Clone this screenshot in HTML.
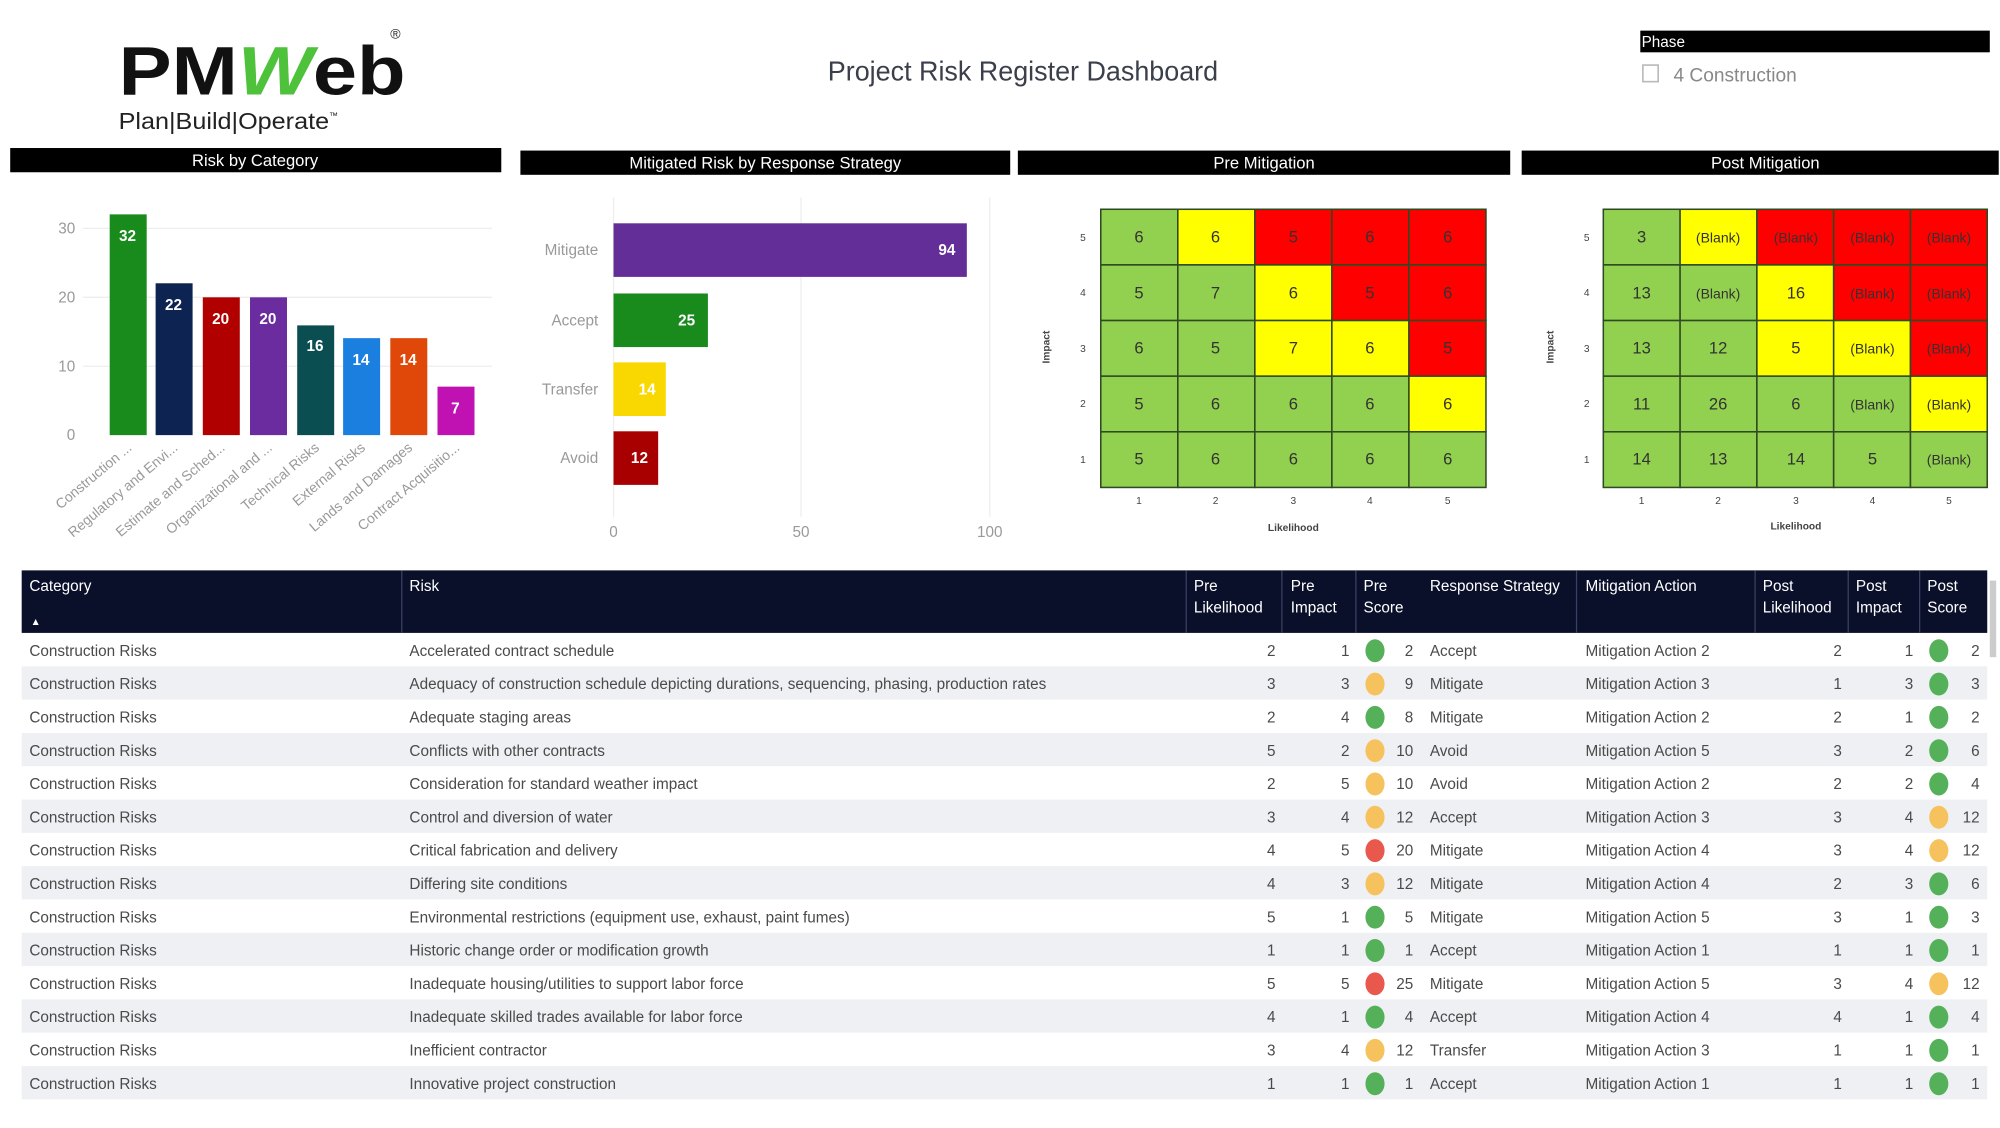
<!DOCTYPE html>
<html><head><meta charset="utf-8"><style>
html,body{margin:0;padding:0;background:#fff;width:2000px;height:1128px;overflow:hidden}
svg{display:block}
text{font-family:"Liberation Sans",sans-serif}
</style></head><body>
<svg width="2000" height="1128" viewBox="0 0 1568 884" preserveAspectRatio="none" xmlns="http://www.w3.org/2000/svg">
<!-- logo -->
<text x="93" y="74" font-size="54" font-weight="bold" fill="#111" textLength="225" lengthAdjust="spacingAndGlyphs">PM<tspan fill="#4dc23a" font-style="italic">W</tspan>eb</text>
<text x="306" y="30" font-size="11" fill="#222">®</text>
<text x="93" y="101" font-size="18" fill="#222" textLength="165" lengthAdjust="spacingAndGlyphs">Plan|Build|Operate</text>
<text x="258" y="93" font-size="7" fill="#222">™</text>
<!-- title -->
<text x="802" y="63" font-size="22" fill="#3a3f4a" text-anchor="middle" textLength="306" lengthAdjust="spacingAndGlyphs">Project Risk Register Dashboard</text>
<!-- phase -->
<rect x="1286" y="24" width="274" height="17" fill="#000"/>
<text x="1287" y="37" font-size="12" fill="#fff">Phase</text>
<rect x="1288" y="51" width="12" height="13" fill="none" stroke="#bbb" stroke-width="1.3"/>
<text x="1312" y="64" font-size="15" fill="#888">4 Construction</text>
<!-- section headers -->
<rect x="8" y="116" width="385" height="19" fill="#000"/>
<text x="200" y="130" font-size="13" fill="#fff" text-anchor="middle">Risk by Category</text>
<rect x="408" y="118" width="384" height="19" fill="#000"/>
<text x="600" y="132" font-size="13" fill="#fff" text-anchor="middle">Mitigated Risk by Response Strategy</text>
<rect x="798" y="118" width="386" height="19" fill="#000"/>
<text x="991" y="132" font-size="13" fill="#fff" text-anchor="middle">Pre Mitigation</text>
<rect x="1193" y="118" width="374" height="19" fill="#000"/>
<text x="1384" y="132" font-size="13" fill="#fff" text-anchor="middle">Post Mitigation</text>

<!-- chart 1 -->
<g stroke="#eee" stroke-width="1">
<line x1="65" y1="179" x2="386" y2="179"/><line x1="65" y1="233" x2="386" y2="233"/><line x1="65" y1="287" x2="386" y2="287"/>
</g>
<g font-size="12" fill="#999" text-anchor="end">
<text x="59" y="183">30</text><text x="59" y="237">20</text><text x="59" y="291">10</text><text x="59" y="345">0</text>
</g>
<g>
<rect x="86" y="168" width="29" height="173" fill="#198a1c"/>
<rect x="122" y="222" width="29" height="119" fill="#0d2352"/>
<rect x="159" y="233" width="29" height="108" fill="#b00000"/>
<rect x="196" y="233" width="29" height="108" fill="#6a2c9e"/>
<rect x="233" y="255" width="29" height="86" fill="#0a4e52"/>
<rect x="269" y="265" width="29" height="76" fill="#1b7fe0"/>
<rect x="306" y="265" width="29" height="76" fill="#e0480a"/>
<rect x="343" y="303" width="29" height="38" fill="#c012b2"/>
</g>
<g font-size="12" font-weight="bold" fill="#fff" text-anchor="middle">
<text x="100" y="189">32</text><text x="136" y="243">22</text><text x="173" y="254">20</text><text x="210" y="254">20</text>
<text x="247" y="275">16</text><text x="283" y="286">14</text><text x="320" y="286">14</text><text x="357" y="324">7</text>
</g>
<g font-size="11" fill="#999" text-anchor="end">
<text transform="translate(104,352) rotate(-40)">Construction ...</text>
<text transform="translate(140,352) rotate(-40)">Regulatory and Envi...</text>
<text transform="translate(177,352) rotate(-40)">Estimate and Sched...</text>
<text transform="translate(214,352) rotate(-40)">Organizational and ...</text>
<text transform="translate(251,352) rotate(-40)">Technical Risks</text>
<text transform="translate(287,352) rotate(-40)">External Risks</text>
<text transform="translate(324,352) rotate(-40)">Lands and Damages</text>
<text transform="translate(361,352) rotate(-40)">Contract Acquisitio...</text>
</g>

<!-- chart 2 -->
<g stroke="#eee"><line x1="481" y1="155" x2="481" y2="405"/><line x1="628" y1="155" x2="628" y2="405"/><line x1="776" y1="155" x2="776" y2="405"/></g>
<rect x="481" y="175" width="277" height="42" fill="#642e98"/>
<rect x="481" y="230" width="74" height="42" fill="#198a1c"/>
<rect x="481" y="284" width="41" height="42" fill="#f8d800"/>
<rect x="481" y="338" width="35" height="42" fill="#a80000"/>
<g font-size="12" fill="#999" text-anchor="end">
<text x="469" y="200">Mitigate</text><text x="469" y="255">Accept</text><text x="469" y="309">Transfer</text><text x="469" y="363">Avoid</text>
</g>
<g font-size="12" font-weight="bold" fill="#fff" text-anchor="end">
<text x="749" y="200">94</text><text x="545" y="255">25</text><text x="514" y="309">14</text><text x="508" y="363">12</text>
</g>
<g font-size="12" fill="#999" text-anchor="middle"><text x="481" y="421">0</text><text x="628" y="421">50</text><text x="776" y="421">100</text></g>

<!-- heatmaps -->
<defs><style>.g{fill:#92d050}.y{fill:#ffff00}.r{fill:#ff0000}</style></defs>
<g id="pre" stroke="#2e4a22" stroke-width="1.2">
<rect class="g" x="863" y="164" width="60.4" height="43.6"/><rect class="y" x="923.4" y="164" width="60.4" height="43.6"/><rect class="r" x="983.8" y="164" width="60.4" height="43.6"/><rect class="r" x="1044.2" y="164" width="60.4" height="43.6"/><rect class="r" x="1104.6" y="164" width="60.4" height="43.6"/>
<rect class="g" x="863" y="207.6" width="60.4" height="43.6"/><rect class="g" x="923.4" y="207.6" width="60.4" height="43.6"/><rect class="y" x="983.8" y="207.6" width="60.4" height="43.6"/><rect class="r" x="1044.2" y="207.6" width="60.4" height="43.6"/><rect class="r" x="1104.6" y="207.6" width="60.4" height="43.6"/>
<rect class="g" x="863" y="251.2" width="60.4" height="43.6"/><rect class="g" x="923.4" y="251.2" width="60.4" height="43.6"/><rect class="y" x="983.8" y="251.2" width="60.4" height="43.6"/><rect class="y" x="1044.2" y="251.2" width="60.4" height="43.6"/><rect class="r" x="1104.6" y="251.2" width="60.4" height="43.6"/>
<rect class="g" x="863" y="294.8" width="60.4" height="43.6"/><rect class="g" x="923.4" y="294.8" width="60.4" height="43.6"/><rect class="g" x="983.8" y="294.8" width="60.4" height="43.6"/><rect class="g" x="1044.2" y="294.8" width="60.4" height="43.6"/><rect class="y" x="1104.6" y="294.8" width="60.4" height="43.6"/>
<rect class="g" x="863" y="338.4" width="60.4" height="43.6"/><rect class="g" x="923.4" y="338.4" width="60.4" height="43.6"/><rect class="g" x="983.8" y="338.4" width="60.4" height="43.6"/><rect class="g" x="1044.2" y="338.4" width="60.4" height="43.6"/><rect class="g" x="1104.6" y="338.4" width="60.4" height="43.6"/>
</g>
<g font-size="13" fill="#333" text-anchor="middle">
<text x="893" y="190">6</text><text x="953" y="190">6</text><text x="1014" y="190">5</text><text x="1074" y="190">6</text><text x="1135" y="190">6</text>
<text x="893" y="234">5</text><text x="953" y="234">7</text><text x="1014" y="234">6</text><text x="1074" y="234">5</text><text x="1135" y="234">6</text>
<text x="893" y="277">6</text><text x="953" y="277">5</text><text x="1014" y="277">7</text><text x="1074" y="277">6</text><text x="1135" y="277">5</text>
<text x="893" y="321">5</text><text x="953" y="321">6</text><text x="1014" y="321">6</text><text x="1074" y="321">6</text><text x="1135" y="321">6</text>
<text x="893" y="364">5</text><text x="953" y="364">6</text><text x="1014" y="364">6</text><text x="1074" y="364">6</text><text x="1135" y="364">6</text>
</g>
<g font-size="8" fill="#444" text-anchor="middle">
<text x="849" y="189">5</text><text x="849" y="232">4</text><text x="849" y="276">3</text><text x="849" y="319">2</text><text x="849" y="363">1</text>
<text x="893" y="395">1</text><text x="953" y="395">2</text><text x="1014" y="395">3</text><text x="1074" y="395">4</text><text x="1135" y="395">5</text>
<text x="1014" y="416" font-weight="bold">Likelihood</text>
<text transform="translate(823,272) rotate(-90)" font-weight="bold">Impact</text>
</g>

<g stroke="#2e4a22" stroke-width="1.2">
<rect class="g" x="1257" y="164" width="60.2" height="43.6"/><rect class="y" x="1317.2" y="164" width="60.2" height="43.6"/><rect class="r" x="1377.4" y="164" width="60.2" height="43.6"/><rect class="r" x="1437.6" y="164" width="60.2" height="43.6"/><rect class="r" x="1497.8" y="164" width="60.2" height="43.6"/>
<rect class="g" x="1257" y="207.6" width="60.2" height="43.6"/><rect class="g" x="1317.2" y="207.6" width="60.2" height="43.6"/><rect class="y" x="1377.4" y="207.6" width="60.2" height="43.6"/><rect class="r" x="1437.6" y="207.6" width="60.2" height="43.6"/><rect class="r" x="1497.8" y="207.6" width="60.2" height="43.6"/>
<rect class="g" x="1257" y="251.2" width="60.2" height="43.6"/><rect class="g" x="1317.2" y="251.2" width="60.2" height="43.6"/><rect class="y" x="1377.4" y="251.2" width="60.2" height="43.6"/><rect class="y" x="1437.6" y="251.2" width="60.2" height="43.6"/><rect class="r" x="1497.8" y="251.2" width="60.2" height="43.6"/>
<rect class="g" x="1257" y="294.8" width="60.2" height="43.6"/><rect class="g" x="1317.2" y="294.8" width="60.2" height="43.6"/><rect class="g" x="1377.4" y="294.8" width="60.2" height="43.6"/><rect class="g" x="1437.6" y="294.8" width="60.2" height="43.6"/><rect class="y" x="1497.8" y="294.8" width="60.2" height="43.6"/>
<rect class="g" x="1257" y="338.4" width="60.2" height="43.6"/><rect class="g" x="1317.2" y="338.4" width="60.2" height="43.6"/><rect class="g" x="1377.4" y="338.4" width="60.2" height="43.6"/><rect class="g" x="1437.6" y="338.4" width="60.2" height="43.6"/><rect class="g" x="1497.8" y="338.4" width="60.2" height="43.6"/>
</g>
<g font-size="13" fill="#333" text-anchor="middle">
<text x="1287" y="190">3</text><text x="1347" y="190" font-size="11">(Blank)</text><text x="1408" y="190" font-size="11">(Blank)</text><text x="1468" y="190" font-size="11">(Blank)</text><text x="1528" y="190" font-size="11">(Blank)</text>
<text x="1287" y="234">13</text><text x="1347" y="234" font-size="11">(Blank)</text><text x="1408" y="234">16</text><text x="1468" y="234" font-size="11">(Blank)</text><text x="1528" y="234" font-size="11">(Blank)</text>
<text x="1287" y="277">13</text><text x="1347" y="277">12</text><text x="1408" y="277">5</text><text x="1468" y="277" font-size="11">(Blank)</text><text x="1528" y="277" font-size="11">(Blank)</text>
<text x="1287" y="321">11</text><text x="1347" y="321">26</text><text x="1408" y="321">6</text><text x="1468" y="321" font-size="11">(Blank)</text><text x="1528" y="321" font-size="11">(Blank)</text>
<text x="1287" y="364">14</text><text x="1347" y="364">13</text><text x="1408" y="364">14</text><text x="1468" y="364">5</text><text x="1528" y="364" font-size="11">(Blank)</text>
</g>
<g font-size="8" fill="#444" text-anchor="middle">
<text x="1244" y="189">5</text><text x="1244" y="232">4</text><text x="1244" y="276">3</text><text x="1244" y="319">2</text><text x="1244" y="363">1</text>
<text x="1287" y="395">1</text><text x="1347" y="395">2</text><text x="1408" y="395">3</text><text x="1468" y="395">4</text><text x="1528" y="395">5</text>
<text x="1408" y="415" font-weight="bold">Likelihood</text>
<text transform="translate(1218,272) rotate(-90)" font-weight="bold">Impact</text>
</g>

<!-- table -->
<rect x="17" y="447" width="1541" height="49" fill="#0a0f2a"/>
<g stroke="#3a4060" stroke-width="1">
<line x1="315" y1="447" x2="315" y2="496"/><line x1="930" y1="447" x2="930" y2="496"/><line x1="1005" y1="447" x2="1005" y2="496"/><line x1="1063" y1="447" x2="1063" y2="496"/><line x1="1236" y1="447" x2="1236" y2="496"/><line x1="1376" y1="447" x2="1376" y2="496"/><line x1="1449" y1="447" x2="1449" y2="496"/><line x1="1505" y1="447" x2="1505" y2="496"/>
</g>
<g font-size="12" fill="#fff">
<text x="23" y="463">Category</text><text x="24" y="490" font-size="8">▲</text>
<text x="321" y="463">Risk</text>
<text x="936" y="463">Pre</text><text x="936" y="480">Likelihood</text>
<text x="1012" y="463">Pre</text><text x="1012" y="480">Impact</text>
<text x="1069" y="463">Pre</text><text x="1069" y="480">Score</text>
<text x="1121" y="463">Response Strategy</text>
<text x="1243" y="463">Mitigation Action</text>
<text x="1382" y="463">Post</text><text x="1382" y="480">Likelihood</text>
<text x="1455" y="463">Post</text><text x="1455" y="480">Impact</text>
<text x="1511" y="463">Post</text><text x="1511" y="480">Score</text>
</g>
<g fill="#eef0f3">
<rect x="17" y="522.2" width="1541" height="26.1"/><rect x="17" y="574.4" width="1541" height="26.1"/><rect x="17" y="626.6" width="1541" height="26.1"/><rect x="17" y="678.8" width="1541" height="26.1"/><rect x="17" y="731" width="1541" height="26.1"/><rect x="17" y="783.2" width="1541" height="26.1"/><rect x="17" y="835.4" width="1541" height="26.1"/>
</g>
<rect x="1560" y="455" width="5" height="60" fill="#ccc"/>
<g font-size="12" fill="#4a4a4a">
<g transform="translate(0,514)"><text x="23">Construction Risks</text><text x="321">Accelerated contract schedule</text><text x="1000" text-anchor="end">2</text><text x="1058" text-anchor="end">1</text><text x="1108" text-anchor="end">2</text><text x="1121">Accept</text><text x="1243">Mitigation Action 2</text><text x="1444" text-anchor="end">2</text><text x="1500" text-anchor="end">1</text><text x="1552" text-anchor="end">2</text></g>
<g transform="translate(0,540.1)"><text x="23">Construction Risks</text><text x="321">Adequacy of construction schedule depicting durations, sequencing, phasing, production rates</text><text x="1000" text-anchor="end">3</text><text x="1058" text-anchor="end">3</text><text x="1108" text-anchor="end">9</text><text x="1121">Mitigate</text><text x="1243">Mitigation Action 3</text><text x="1444" text-anchor="end">1</text><text x="1500" text-anchor="end">3</text><text x="1552" text-anchor="end">3</text></g>
<g transform="translate(0,566.2)"><text x="23">Construction Risks</text><text x="321">Adequate staging areas</text><text x="1000" text-anchor="end">2</text><text x="1058" text-anchor="end">4</text><text x="1108" text-anchor="end">8</text><text x="1121">Mitigate</text><text x="1243">Mitigation Action 2</text><text x="1444" text-anchor="end">2</text><text x="1500" text-anchor="end">1</text><text x="1552" text-anchor="end">2</text></g>
<g transform="translate(0,592.3)"><text x="23">Construction Risks</text><text x="321">Conflicts with other contracts</text><text x="1000" text-anchor="end">5</text><text x="1058" text-anchor="end">2</text><text x="1108" text-anchor="end">10</text><text x="1121">Avoid</text><text x="1243">Mitigation Action 5</text><text x="1444" text-anchor="end">3</text><text x="1500" text-anchor="end">2</text><text x="1552" text-anchor="end">6</text></g>
<g transform="translate(0,618.4)"><text x="23">Construction Risks</text><text x="321">Consideration for standard weather impact</text><text x="1000" text-anchor="end">2</text><text x="1058" text-anchor="end">5</text><text x="1108" text-anchor="end">10</text><text x="1121">Avoid</text><text x="1243">Mitigation Action 2</text><text x="1444" text-anchor="end">2</text><text x="1500" text-anchor="end">2</text><text x="1552" text-anchor="end">4</text></g>
<g transform="translate(0,644.5)"><text x="23">Construction Risks</text><text x="321">Control and diversion of water</text><text x="1000" text-anchor="end">3</text><text x="1058" text-anchor="end">4</text><text x="1108" text-anchor="end">12</text><text x="1121">Accept</text><text x="1243">Mitigation Action 3</text><text x="1444" text-anchor="end">3</text><text x="1500" text-anchor="end">4</text><text x="1552" text-anchor="end">12</text></g>
<g transform="translate(0,670.6)"><text x="23">Construction Risks</text><text x="321">Critical fabrication and delivery</text><text x="1000" text-anchor="end">4</text><text x="1058" text-anchor="end">5</text><text x="1108" text-anchor="end">20</text><text x="1121">Mitigate</text><text x="1243">Mitigation Action 4</text><text x="1444" text-anchor="end">3</text><text x="1500" text-anchor="end">4</text><text x="1552" text-anchor="end">12</text></g>
<g transform="translate(0,696.7)"><text x="23">Construction Risks</text><text x="321">Differing site conditions</text><text x="1000" text-anchor="end">4</text><text x="1058" text-anchor="end">3</text><text x="1108" text-anchor="end">12</text><text x="1121">Mitigate</text><text x="1243">Mitigation Action 4</text><text x="1444" text-anchor="end">2</text><text x="1500" text-anchor="end">3</text><text x="1552" text-anchor="end">6</text></g>
<g transform="translate(0,722.8)"><text x="23">Construction Risks</text><text x="321">Environmental restrictions (equipment use, exhaust, paint fumes)</text><text x="1000" text-anchor="end">5</text><text x="1058" text-anchor="end">1</text><text x="1108" text-anchor="end">5</text><text x="1121">Mitigate</text><text x="1243">Mitigation Action 5</text><text x="1444" text-anchor="end">3</text><text x="1500" text-anchor="end">1</text><text x="1552" text-anchor="end">3</text></g>
<g transform="translate(0,748.9)"><text x="23">Construction Risks</text><text x="321">Historic change order or modification growth</text><text x="1000" text-anchor="end">1</text><text x="1058" text-anchor="end">1</text><text x="1108" text-anchor="end">1</text><text x="1121">Accept</text><text x="1243">Mitigation Action 1</text><text x="1444" text-anchor="end">1</text><text x="1500" text-anchor="end">1</text><text x="1552" text-anchor="end">1</text></g>
<g transform="translate(0,775)"><text x="23">Construction Risks</text><text x="321">Inadequate housing/utilities to support labor force</text><text x="1000" text-anchor="end">5</text><text x="1058" text-anchor="end">5</text><text x="1108" text-anchor="end">25</text><text x="1121">Mitigate</text><text x="1243">Mitigation Action 5</text><text x="1444" text-anchor="end">3</text><text x="1500" text-anchor="end">4</text><text x="1552" text-anchor="end">12</text></g>
<g transform="translate(0,801.1)"><text x="23">Construction Risks</text><text x="321">Inadequate skilled trades available for labor force</text><text x="1000" text-anchor="end">4</text><text x="1058" text-anchor="end">1</text><text x="1108" text-anchor="end">4</text><text x="1121">Accept</text><text x="1243">Mitigation Action 4</text><text x="1444" text-anchor="end">4</text><text x="1500" text-anchor="end">1</text><text x="1552" text-anchor="end">4</text></g>
<g transform="translate(0,827.2)"><text x="23">Construction Risks</text><text x="321">Inefficient contractor</text><text x="1000" text-anchor="end">3</text><text x="1058" text-anchor="end">4</text><text x="1108" text-anchor="end">12</text><text x="1121">Transfer</text><text x="1243">Mitigation Action 3</text><text x="1444" text-anchor="end">1</text><text x="1500" text-anchor="end">1</text><text x="1552" text-anchor="end">1</text></g>
<g transform="translate(0,853.3)"><text x="23">Construction Risks</text><text x="321">Innovative project construction</text><text x="1000" text-anchor="end">1</text><text x="1058" text-anchor="end">1</text><text x="1108" text-anchor="end">1</text><text x="1121">Accept</text><text x="1243">Mitigation Action 1</text><text x="1444" text-anchor="end">1</text><text x="1500" text-anchor="end">1</text><text x="1552" text-anchor="end">1</text></g>
</g>
<!-- dots -->
<g>
<ellipse cx="1078" cy="510" rx="7.5" ry="9" fill="#55b05a"/><ellipse cx="1520" cy="510" rx="7.5" ry="9" fill="#55b05a"/>
<ellipse cx="1078" cy="536.1" rx="7.5" ry="9" fill="#f6c25e"/><ellipse cx="1520" cy="536.1" rx="7.5" ry="9" fill="#55b05a"/>
<ellipse cx="1078" cy="562.2" rx="7.5" ry="9" fill="#55b05a"/><ellipse cx="1520" cy="562.2" rx="7.5" ry="9" fill="#55b05a"/>
<ellipse cx="1078" cy="588.3" rx="7.5" ry="9" fill="#f6c25e"/><ellipse cx="1520" cy="588.3" rx="7.5" ry="9" fill="#55b05a"/>
<ellipse cx="1078" cy="614.4" rx="7.5" ry="9" fill="#f6c25e"/><ellipse cx="1520" cy="614.4" rx="7.5" ry="9" fill="#55b05a"/>
<ellipse cx="1078" cy="640.5" rx="7.5" ry="9" fill="#f6c25e"/><ellipse cx="1520" cy="640.5" rx="7.5" ry="9" fill="#f6c25e"/>
<ellipse cx="1078" cy="666.6" rx="7.5" ry="9" fill="#e8584c"/><ellipse cx="1520" cy="666.6" rx="7.5" ry="9" fill="#f6c25e"/>
<ellipse cx="1078" cy="692.7" rx="7.5" ry="9" fill="#f6c25e"/><ellipse cx="1520" cy="692.7" rx="7.5" ry="9" fill="#55b05a"/>
<ellipse cx="1078" cy="718.8" rx="7.5" ry="9" fill="#55b05a"/><ellipse cx="1520" cy="718.8" rx="7.5" ry="9" fill="#55b05a"/>
<ellipse cx="1078" cy="744.9" rx="7.5" ry="9" fill="#55b05a"/><ellipse cx="1520" cy="744.9" rx="7.5" ry="9" fill="#55b05a"/>
<ellipse cx="1078" cy="771" rx="7.5" ry="9" fill="#e8584c"/><ellipse cx="1520" cy="771" rx="7.5" ry="9" fill="#f6c25e"/>
<ellipse cx="1078" cy="797.1" rx="7.5" ry="9" fill="#55b05a"/><ellipse cx="1520" cy="797.1" rx="7.5" ry="9" fill="#55b05a"/>
<ellipse cx="1078" cy="823.2" rx="7.5" ry="9" fill="#f6c25e"/><ellipse cx="1520" cy="823.2" rx="7.5" ry="9" fill="#55b05a"/>
<ellipse cx="1078" cy="849.3" rx="7.5" ry="9" fill="#55b05a"/><ellipse cx="1520" cy="849.3" rx="7.5" ry="9" fill="#55b05a"/>
</g>
</svg>
</body></html>
